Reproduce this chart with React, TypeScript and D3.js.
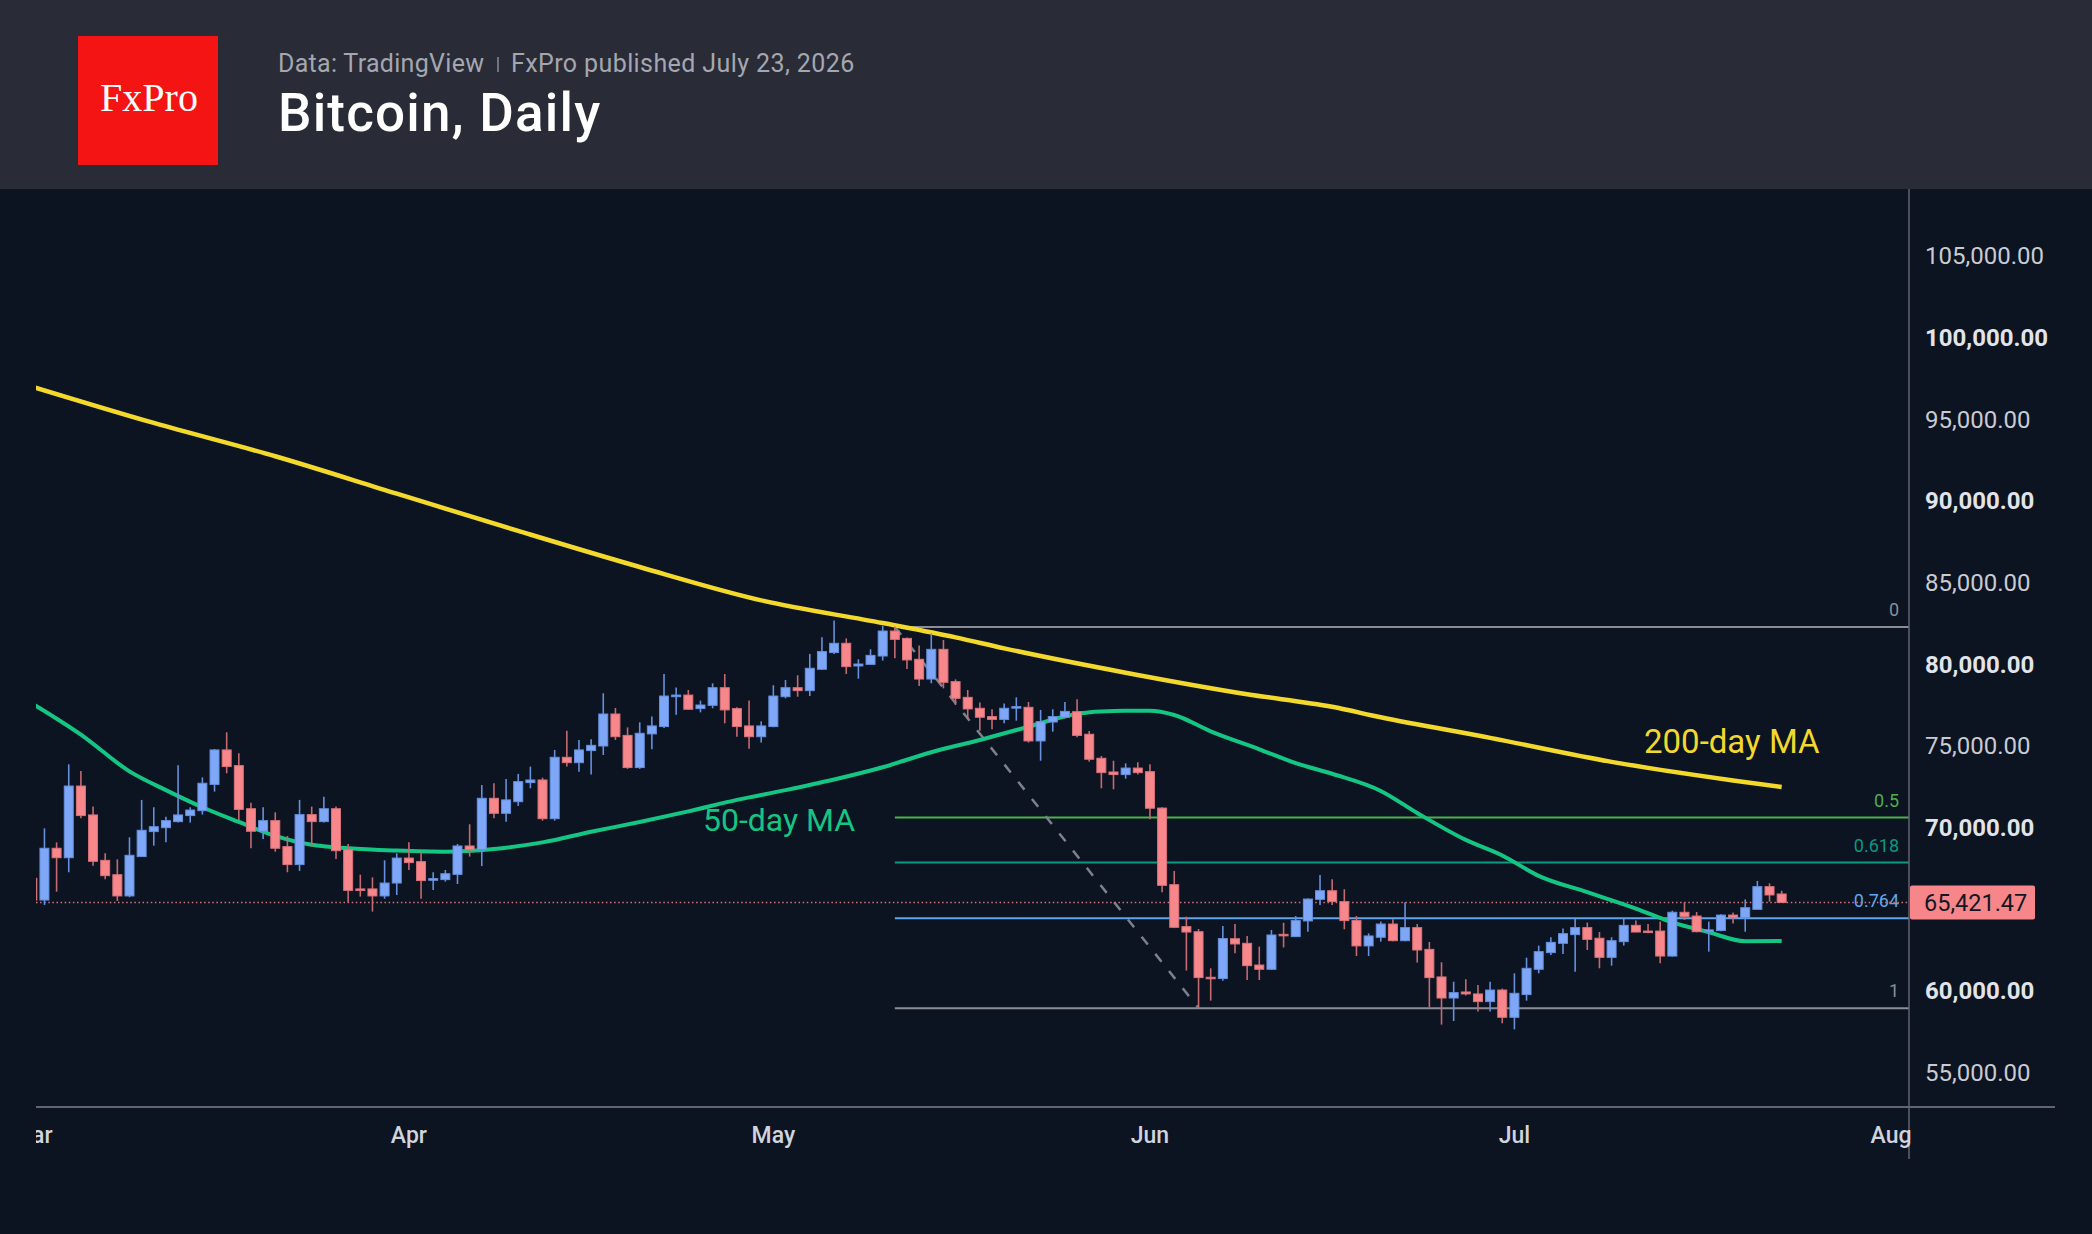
import React, { useEffect, useRef } from "react";
import * as d3 from "d3";

const W = 2092;
const H = 1234;

// daily candles, index 0 = 1 Mar 2026
const opens = [
  66900, 65570, 68740, 68160, 72550, 70780, 68000, 67120, 65820, 68230,
  69760, 70000, 70370, 70740, 71040, 72650, 74760, 73800, 71160, 69780,
  70430, 68840, 67740, 70800, 70370, 71160, 68650, 66250, 66250, 65820,
  66610, 68140, 67920, 66780, 66820, 67140, 68880, 68650, 71800, 70880,
  71590, 72760, 72920, 70550, 74310, 73980, 74720, 75000, 76960, 75650,
  73680, 75740, 76190, 78020, 78120, 77290, 77490, 78570, 77290, 76230,
  75570, 76190, 78020, 78570, 78390, 79700, 80720, 81290, 79900, 80000,
  80510, 82040, 81590, 80310, 79100, 80920, 78940, 77980, 77310, 76800,
  76630, 77330, 77370, 75310, 76470, 76760, 77100, 75720, 74250, 73410,
  73250, 73650, 73430, 71200, 66510, 63940, 63630, 60840, 60760, 63200,
  62920, 61590, 61330, 63470, 63330, 64290, 65610, 66140, 65470, 64310,
  62760, 63290, 64100, 63080, 63880, 62550, 60860, 59570, 59940, 59820,
  59350, 60060, 58390, 59780, 61330, 62350, 62920, 63450, 63880, 63230,
  62060, 63020, 64020, 63670, 63670, 62140, 64820, 64590, 63630, 63700,
  64650, 64490, 65000, 66390, 65940,
];
const highs = [
  67200, 69960, 69100, 73880, 73470, 71290, 68430, 68060, 69410, 71700,
  71250, 70670, 73820, 71250, 73080, 74820, 75840, 74550, 71530, 71250,
  70940, 69490, 71700, 71290, 71900, 71290, 69000, 67120, 66960, 68000,
  68430, 69100, 68490, 67270, 67410, 69000, 70210, 72610, 72720, 72980,
  73290, 73740, 73060, 74760, 75940, 75370, 75410, 78230, 77330, 76140,
  76450, 76800, 79410, 78590, 78430, 77780, 78840, 79410, 77370, 77780,
  76510, 78720, 79040, 79330, 80640, 81660, 82680, 81590, 80310, 80920,
  82350, 82310, 81650, 81150, 81900, 81490, 79080, 78430, 77660, 77250,
  77610, 77980, 77700, 77210, 77250, 77700, 77860, 75920, 74390, 74100,
  73940, 74000, 73880, 71250, 67350, 64550, 63800, 61390, 63980, 64100,
  63370, 62720, 63740, 64180, 64590, 65670, 67100, 66840, 66230, 64590,
  63530, 64250, 64390, 65430, 64100, 63000, 61760, 60570, 60720, 60370,
  60570, 60150, 61080, 62040, 62780, 63290, 63820, 64430, 64190, 63610,
  63290, 64430, 64310, 64100, 64250, 64920, 65430, 64840, 64250, 64700,
  64800, 65610, 66740, 66590, 66140,
];
const lows = [
  65300, 65270, 66080, 67270, 70570, 67670, 66840, 65510, 65740, 68230,
  68900, 69100, 70310, 70310, 70800, 72210, 73330, 70470, 68740, 69310,
  68530, 67270, 67350, 68840, 70310, 68080, 65430, 65780, 64860, 65650,
  65880, 67410, 65650, 66180, 66700, 66550, 68230, 67650, 70570, 70370,
  71330, 72410, 70430, 70430, 73740, 73430, 73250, 74450, 75370, 73600,
  73600, 74800, 76100, 76920, 77210, 77060, 77310, 76390, 75570, 74840,
  75210, 76150, 77920, 78020, 78060, 79650, 80640, 79410, 79120, 79980,
  80230, 80370, 79720, 78680, 78840, 78530, 77510, 76630, 75940, 76020,
  76390, 76550, 75210, 74100, 75880, 76700, 75530, 74040, 72410, 72350,
  73000, 73250, 70510, 66040, 63850, 61250, 58980, 59410, 60630, 62310,
  60670, 60670, 61300, 62670, 63300, 63630, 65270, 65270, 63780, 62140,
  62140, 63020, 63050, 63040, 61740, 59000, 57940, 58160, 59720, 58740,
  58740, 58020, 57650, 59410, 61080, 62210, 62270, 61180, 62510, 61390,
  61550, 62780, 63600, 63530, 61700, 62100, 64350, 63600, 62410, 63660,
  64140, 63630, 64980, 65470, 65400,
];
const closes = [
  65570, 68740, 68160, 72550, 70740, 67940, 67060, 65820, 68310, 69840,
  70060, 70430, 70780, 71080, 72720, 74760, 73740, 71120, 69780, 70430,
  68740, 67740, 70800, 70370, 71160, 68590, 66160, 66160, 65820, 66610,
  68140, 67860, 66760, 66880, 67180, 68880, 68650, 71800, 70880, 71700,
  72820, 72920, 70550, 74310, 73980, 74760, 75040, 76960, 75570, 73680,
  75780, 76230, 78060, 78120, 77250, 77510, 78570, 77210, 76190, 75570,
  76230, 78060, 78570, 78390, 79760, 80780, 81290, 79860, 80020, 80550,
  82040, 81530, 80270, 79100, 80920, 78900, 77920, 77270, 76760, 76630,
  77310, 77410, 75310, 76490, 76800, 77120, 75650, 74190, 73370, 73250,
  73650, 73370, 71190, 66470, 63900, 63610, 60820, 60760, 63210, 62880,
  61550, 61330, 63430, 63390, 64310, 65630, 66140, 65470, 64310, 62760,
  63370, 64100, 63080, 63880, 62510, 60820, 59570, 59900, 59820, 59350,
  60060, 58390, 59860, 61390, 62410, 62980, 63510, 63880, 63160, 62060,
  63080, 64020, 63610, 63610, 62140, 64820, 64550, 63630, 63740, 64650,
  64490, 65100, 66390, 65880, 65421.47,
];

// moving averages at sample days
const ma200Days = [0, 10, 20, 30, 40, 50, 60, 70, 76, 80, 90, 100, 107, 111, 120, 130, 140, 144];
const ma200Values = [97000, 94780, 92740, 90450, 88170, 85960, 83920, 82530, 81650, 80980, 79490, 78170, 77400, 76760, 75500, 74030, 72890, 72490];
const ma50Days = [0, 4, 8, 11, 14, 17, 20, 23, 26, 30, 34, 38, 42, 46, 50, 54, 58, 62, 66, 70, 74, 78, 82, 86, 89, 92, 94, 97, 101, 104, 107, 111, 114, 118, 121, 124, 128, 132, 135, 138, 141, 144];
const ma50Values = [77600, 75700, 73450, 72300, 71250, 70350, 69500, 68950, 68740, 68600, 68530, 68700, 69100, 69750, 70350, 71000, 71700, 72300, 72950, 73700, 74620, 75370, 76180, 76980, 77150, 77160, 76900, 75900, 74800, 73950, 73300, 72250, 70900, 69250, 68300, 67050, 66050, 65050, 64200, 63600, 63050, 63060];

// fibonacci retracement
const fibHigh = 82290;
const fibLow = 58950;
const fibStartDay = 71;
const fibEndDay = 96;
const fibLevels = [0, 0.5, 0.618, 0.764, 1];
const fibColors = ["#8b8e97", "#4caf50", "#089981", "#5ea6ee", "#8b8e97"];

// 65,000 sits under the last-price tag, so it is not shown
const priceTicks = [55000, 60000, 70000, 75000, 80000, 85000, 90000, 95000, 100000, 105000];

const dayDate = (i: number) => new Date(Date.UTC(2026, 2, 1 + i));

const App = () => {
  const svgRef = useRef<SVGSVGElement>(null);

  useEffect(() => {
    document.body.style.margin = "0";
    document.body.style.background = "#0c1321";

    const svg = d3.select(svgRef.current);
    svg.selectAll("*").remove();

    const font = "Roboto, 'Noto Sans', sans-serif";
    const left = 36;
    const right = 1909;
    const top = 189;
    const bottom = 1107;

    const x = d3
      .scaleUtc()
      .domain([dayDate(0), new Date(Date.UTC(2026, 7, 1))])
      .range([32.3, 1891]);
    const y = d3.scaleLinear().domain([60000, 100000]).range([991, 337.7]);

    svg.append("rect").attr("width", W).attr("height", H).attr("fill", "#0c1321");

    // header
    svg.append("rect").attr("width", W).attr("height", top).attr("fill", "#292b37");
    svg.append("rect").attr("x", 78).attr("y", 36).attr("width", 140).attr("height", 129).attr("fill", "#f41414");
    svg
      .append("text")
      .attr("x", 149)
      .attr("y", 111)
      .attr("text-anchor", "middle")
      .attr("font-family", "'Liberation Serif', 'DejaVu Serif', serif")
      .attr("font-size", 40)
      .attr("fill", "#ffffff")
      .text("FxPro");
    svg
      .append("text")
      .attr("x", 278)
      .attr("y", 72)
      .attr("font-family", font)
      .attr("font-size", 25)
      .attr("letter-spacing", 0.3)
      .attr("fill", "#a4a7b0")
      .text("Data: TradingView");
    svg
      .append("line")
      .attr("x1", 498)
      .attr("x2", 498)
      .attr("y1", 57)
      .attr("y2", 72)
      .attr("stroke", "#8a8d96")
      .attr("stroke-width", 1.5);
    svg
      .append("text")
      .attr("x", 511)
      .attr("y", 72)
      .attr("font-family", font)
      .attr("font-size", 25)
      .attr("letter-spacing", 0.4)
      .attr("fill", "#a4a7b0")
      .text("FxPro published July 23, 2026");
    svg
      .append("text")
      .attr("x", 278)
      .attr("y", 131)
      .attr("font-family", font)
      .attr("font-size", 53)
      .attr("letter-spacing", 1.2)
      .attr("font-weight", 500)
      .attr("fill", "#ffffff")
      .text("Bitcoin, Daily");

    const defs = svg.append("defs");
    defs
      .append("clipPath")
      .attr("id", "plot")
      .append("rect")
      .attr("x", left)
      .attr("y", top)
      .attr("width", right - left)
      .attr("height", bottom - top);
    defs
      .append("clipPath")
      .attr("id", "xlab")
      .append("rect")
      .attr("x", left)
      .attr("y", bottom)
      .attr("width", right - left + 2)
      .attr("height", 80);

    const plot = svg.append("g").attr("clip-path", "url(#plot)");

    // fib levels
    const fibRange = fibHigh - fibLow;
    fibLevels.forEach((lv, i) => {
      const py = y(fibHigh - lv * fibRange);
      plot
        .append("line")
        .attr("x1", x(dayDate(fibStartDay)))
        .attr("x2", right)
        .attr("y1", py)
        .attr("y2", py)
        .attr("stroke", fibColors[i])
        .attr("stroke-width", 2);
      plot
        .append("text")
        .attr("x", 1899)
        .attr("y", py - 11)
        .attr("text-anchor", "end")
        .attr("font-family", font)
        .attr("font-size", 18)
        .attr("fill", fibColors[i])
        .text(String(lv));
    });

    // trend line between fib anchors
    plot
      .append("line")
      .attr("x1", x(dayDate(fibStartDay)))
      .attr("y1", y(fibHigh))
      .attr("x2", x(dayDate(fibEndDay)))
      .attr("y2", y(fibLow))
      .attr("stroke", "#7d818c")
      .attr("stroke-width", 2.5)
      .attr("stroke-dasharray", "10 12");

    // last price line
    const last = closes[closes.length - 1];
    plot
      .append("line")
      .attr("x1", left)
      .attr("x2", right)
      .attr("y1", y(last))
      .attr("y2", y(last))
      .attr("stroke", "#d4747a")
      .attr("stroke-width", 1.5)
      .attr("stroke-dasharray", "1.5 2.6");

    // moving averages
    const maLine = d3
      .line<number>()
      .x((d) => x(dayDate(d)))
      .curve(d3.curveMonotoneX);
    plot
      .append("path")
      .datum(ma50Days)
      .attr("fill", "none")
      .attr("stroke", "#14c584")
      .attr("stroke-width", 4)
      .attr("d", maLine.y((d, i) => y(ma50Values[i])));
    plot
      .append("path")
      .datum(ma200Days)
      .attr("fill", "none")
      .attr("stroke", "#f2d92c")
      .attr("stroke-width", 4.5)
      .attr("d", maLine.y((d, i) => y(ma200Values[i])));

    // candles
    const candles = closes.map((c, i) => ({
      date: dayDate(i),
      o: opens[i],
      h: highs[i],
      l: lows[i],
      c,
    }));
    const bodyW = 9;
    const g = plot
      .selectAll("g.candle")
      .data(candles)
      .join("g")
      .attr("class", "candle");
    g.append("line")
      .attr("x1", (d) => x(d.date))
      .attr("x2", (d) => x(d.date))
      .attr("y1", (d) => y(d.h))
      .attr("y2", (d) => y(d.l))
      .attr("stroke", (d) => (d.c >= d.o ? "#6690de" : "#c46a70"))
      .attr("stroke-width", 1.6);
    g.append("rect")
      .attr("x", (d) => x(d.date) - bodyW / 2)
      .attr("y", (d) => y(Math.max(d.o, d.c)))
      .attr("width", bodyW)
      .attr("height", (d) => Math.max(1.5, Math.abs(y(d.o) - y(d.c))))
      .attr("fill", (d) => (d.c >= d.o ? "#7ea7f8" : "#f7878b"))
      .attr("stroke", (d) => (d.c >= d.o ? "#6690de" : "#d9737a"))
      .attr("stroke-width", 1);

    // MA labels
    svg
      .append("text")
      .attr("x", 703)
      .attr("y", 831)
      .attr("font-family", font)
      .attr("font-size", 32)
      .attr("fill", "#14c584")
      .text("50-day MA");
    svg
      .append("text")
      .attr("x", 1644)
      .attr("y", 753)
      .attr("font-family", font)
      .attr("font-size", 33)
      .attr("fill", "#f2d92c")
      .text("200-day MA");

    // axes frame
    svg
      .append("line")
      .attr("x1", left)
      .attr("x2", 2055)
      .attr("y1", bottom)
      .attr("y2", bottom)
      .attr("stroke", "#62656f")
      .attr("stroke-width", 2);
    svg
      .append("line")
      .attr("x1", right)
      .attr("x2", right)
      .attr("y1", top)
      .attr("y2", 1159)
      .attr("stroke", "#62656f")
      .attr("stroke-width", 1.5);

    // month labels
    const months = d3.utcMonth.range(dayDate(0), new Date(Date.UTC(2026, 7, 2)));
    svg
      .append("g")
      .attr("clip-path", "url(#xlab)")
      .selectAll("text")
      .data(months)
      .join("text")
      .attr("x", (d) => x(d))
      .attr("y", 1135)
      .attr("dy", "0.35em")
      .attr("text-anchor", "middle")
      .attr("font-family", font)
      .attr("font-size", 23)
      .attr("font-weight", 500)
      .attr("fill", "#d1d4dc")
      .text((d) => d3.utcFormat("%b")(d));

    // price labels
    const fmt = d3.format(",.2f");
    svg
      .append("g")
      .selectAll("text")
      .data(priceTicks)
      .join("text")
      .attr("x", 1925)
      .attr("y", (d) => y(d))
      .attr("dy", "0.35em")
      .attr("font-family", font)
      .attr("font-size", 24)
      .attr("font-weight", (d) => (d % 10000 === 0 ? 700 : 400))
      .attr("fill", (d) => (d % 10000 === 0 ? "#e2e4ea" : "#c9cbd2"))
      .text((d) => fmt(d));

    // last price tag
    svg
      .append("rect")
      .attr("x", 1910)
      .attr("y", y(last) - 17)
      .attr("width", 125)
      .attr("height", 34)
      .attr("rx", 2)
      .attr("fill", "#f7868a");
    svg
      .append("text")
      .attr("x", 1924)
      .attr("y", y(last))
      .attr("dy", "0.35em")
      .attr("font-family", font)
      .attr("font-size", 23.5)
      .attr("fill", "#131722")
      .text(fmt(last));
  }, []);

  return (
    <svg
      ref={svgRef}
      width={W}
      height={H}
      style={{ position: "absolute", left: 0, top: 0, display: "block" }}
    ></svg>
  );
};

export default App;
